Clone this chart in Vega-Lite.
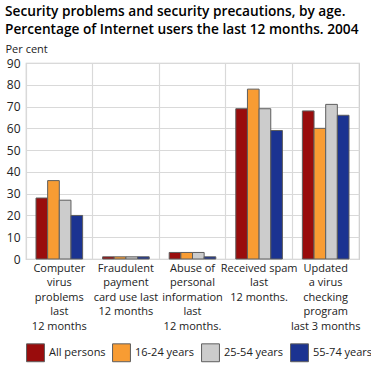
{
  "$schema": "https://vega.github.io/schema/vega-lite/v6.json",
  "width": 333,
  "height": 196,
  "padding": {"left": 5, "top": 5, "right": 11, "bottom": 5},
  "title": {
    "text": ["Security problems and security precautions, by age.", "Percentage of Internet users the last 12 months. 2004"],
    "anchor": "start",
    "frame": "bounds",
    "font": "Open Sans",
    "fontSize": 13.7,
    "fontWeight": 600,
    "color": "#000000",
    "lineHeight": 18,
    "offset": 6
  },
  "data": {
    "values": [
      {"category": "Computer|virus|problems|last|12 months", "group": "All persons", "value": 28},
      {"category": "Computer|virus|problems|last|12 months", "group": "16-24 years", "value": 36},
      {"category": "Computer|virus|problems|last|12 months", "group": "25-54 years", "value": 27},
      {"category": "Computer|virus|problems|last|12 months", "group": "55-74 years", "value": 20},
      {"category": "Fraudulent|payment|card use last|12 months", "group": "All persons", "value": 1},
      {"category": "Fraudulent|payment|card use last|12 months", "group": "16-24 years", "value": 1},
      {"category": "Fraudulent|payment|card use last|12 months", "group": "25-54 years", "value": 1},
      {"category": "Fraudulent|payment|card use last|12 months", "group": "55-74 years", "value": 1},
      {"category": "Abuse of|personal|information|last|12 months.", "group": "All persons", "value": 3},
      {"category": "Abuse of|personal|information|last|12 months.", "group": "16-24 years", "value": 3},
      {"category": "Abuse of|personal|information|last|12 months.", "group": "25-54 years", "value": 3},
      {"category": "Abuse of|personal|information|last|12 months.", "group": "55-74 years", "value": 1},
      {"category": "Received spam|last|12 months.", "group": "All persons", "value": 69},
      {"category": "Received spam|last|12 months.", "group": "16-24 years", "value": 78},
      {"category": "Received spam|last|12 months.", "group": "25-54 years", "value": 69},
      {"category": "Received spam|last|12 months.", "group": "55-74 years", "value": 59},
      {"category": "Updated|a virus|checking|program|last 3 months", "group": "All persons", "value": 68},
      {"category": "Updated|a virus|checking|program|last 3 months", "group": "16-24 years", "value": 60},
      {"category": "Updated|a virus|checking|program|last 3 months", "group": "25-54 years", "value": 71},
      {"category": "Updated|a virus|checking|program|last 3 months", "group": "55-74 years", "value": 66}
    ]
  },
  "mark": {"type": "bar", "stroke": "#5e5e5e", "strokeWidth": 1},
  "encoding": {
    "x": {
      "field": "category",
      "type": "nominal",
      "sort": null,
      "scale": {"paddingInner": 0, "paddingOuter": 0},
      "axis": {
        "title": null,
        "labelAngle": 0,
        "labelExpr": "split(datum.label, '|')",
        "labelFont": "Open Sans",
        "labelFontSize": 11,
        "labelLineHeight": 14.5,
        "labelColor": "#222222",
        "labelPadding": 3,
        "ticks": false,
        "domain": false,
        "grid": true,
        "bandPosition": 0,
        "gridColor": "#d9d9d9",
        "gridWidth": 1.2
      }
    },
    "xOffset": {
      "field": "group",
      "sort": ["All persons", "16-24 years", "25-54 years", "55-74 years"],
      "scale": {"paddingInner": 0, "paddingOuter": 0.857}
    },
    "y": {
      "field": "value",
      "type": "quantitative",
      "scale": {"domain": [0, 90]},
      "axis": {
        "values": [0, 10, 20, 30, 40, 50, 60, 70, 80, 90],
        "title": "Per cent",
        "titleAngle": 0,
        "titleAlign": "left",
        "titleBaseline": "bottom",
        "titleX": -21,
        "titleY": -9,
        "titleFont": "Open Sans",
        "titleFontSize": 11,
        "titleFontWeight": "normal",
        "titleColor": "#222222",
        "labelFont": "Open Sans",
        "labelFontSize": 12,
        "labelColor": "#222222",
        "labelPadding": 6,
        "ticks": false,
        "domain": false,
        "gridColor": "#d9d9d9",
        "gridWidth": 1.2
      }
    },
    "color": {
      "field": "group",
      "type": "nominal",
      "sort": ["All persons", "16-24 years", "25-54 years", "55-74 years"],
      "scale": {
        "domain": ["All persons", "16-24 years", "25-54 years", "55-74 years"],
        "range": ["#990c0c", "#f89c33", "#cccccc", "#1b3391"]
      },
      "legend": {
        "title": null,
        "orient": "bottom",
        "direction": "horizontal",
        "symbolType": "square",
        "symbolSize": 320,
        "symbolStrokeColor": "#5e5e5e",
        "symbolStrokeWidth": 1,
        "labelFont": "Open Sans",
        "labelFontSize": 11,
        "labelColor": "#222222",
        "columnPadding": 4,
        "labelOffset": 4,
        "offset": 12
      }
    }
  },
  "config": {
    "view": {"stroke": "#cccccc", "strokeWidth": 1.2},
    "font": "Open Sans"
  }
}
